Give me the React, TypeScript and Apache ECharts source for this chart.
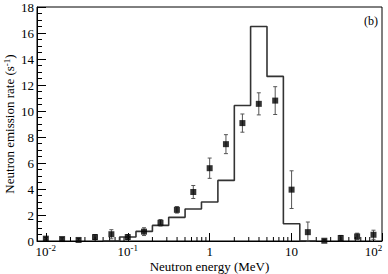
import { useEffect, useRef } from "react";
import * as echarts from "echarts";

// Measured neutron emission rate (points with error bars)
const pointEnergies = [0.01, 0.0158, 0.0251, 0.0398, 0.0631, 0.1, 0.158, 0.251, 0.398, 0.631, 1, 1.58, 2.51, 3.98, 6.31, 10, 15.8, 25.1, 39.8, 63.1, 100];
const pointRates = [0.18, 0.15, 0.08, 0.3, 0.52, 0.3, 0.72, 1.4, 2.4, 3.77, 5.6, 7.45, 9.07, 10.55, 10.8, 3.95, 0.68, 0.02, 0.23, 0.35, 0.48];
const pointErrors = [0.1, 0.1, 0.1, 0.2, 0.35, 0.2, 0.3, 0.25, 0.25, 0.5, 0.78, 0.73, 0.7, 0.85, 1.07, 1.45, 0.78, 0.1, 0.2, 0.25, 0.35];

// Calculated histogram (bin edges and bin values)
const histEdges = [0.0501, 0.0794, 0.126, 0.2, 0.316, 0.501, 0.794, 1.26, 2.0, 3.16, 5.01, 7.94, 12.6, 20.0];
const histRates = [0, 0.31, 0.74, 1.2, 1.82, 2.46, 3.0, 4.66, 10.42, 16.5, 12.66, 1.33, 0];

// Axis ticks
const majorTicks = [0.01, 0.1, 1, 10, 100];
const majorTickLabels = ["{b|10}{s|-2}", "{b|10}{s|-1}", "{b|1}", "{b|10}", "{b|10}{s|2}"];
const minorTicks = [
  0.02, 0.03, 0.04, 0.05, 0.06, 0.07, 0.08, 0.09,
  0.2, 0.3, 0.4, 0.5, 0.6, 0.7, 0.8, 0.9,
  2, 3, 4, 5, 6, 7, 8, 9,
  20, 30, 40, 50, 60, 70, 80, 90,
];

const FONT = "'Liberation Serif', 'Times New Roman', serif";

export default function App() {
  const ref = useRef<HTMLDivElement>(null);
  useEffect(() => {
    if (!ref.current) return;
    const chart = echarts.init(ref.current, null, { renderer: "svg" });
    const histData = histEdges.map((e, i) => [e, i < histRates.length ? histRates[i] : 0]);
    const pointData = pointEnergies.map((e, i) => [e, pointRates[i]]);
    const errData = pointEnergies.map((e, i) => [e, pointRates[i], pointErrors[i]]);
    const barStyle = { stroke: "#555", lineWidth: 1 };
    chart.setOption({
      animation: false,
      textStyle: { fontFamily: FONT },
      grid: {
        left: 37,
        right: 6,
        top: 7,
        bottom: 33,
        outerBoundsMode: "none",
        containLabel: false,
        show: true,
        borderColor: "#000",
        borderWidth: 1,
        backgroundColor: "transparent",
      },
      xAxis: {
        type: "log",
        logBase: 10,
        min: 0.0078,
        max: 127,
        name: "Neutron energy (MeV)",
        nameLocation: "middle",
        nameGap: 19,
        nameMoveOverlap: false,
        nameTextStyle: { fontFamily: FONT, fontSize: 13, color: "#000", lineHeight: 13 },
        axisLine: { lineStyle: { color: "#000", width: 1 } },
        axisTick: { show: true, inside: true, length: 8, lineStyle: { color: "#000" } },
        splitLine: { show: false },
        axisLabel: {
          margin: 4,
          showMinLabel: true,
          showMaxLabel: true,
          fontFamily: FONT,
          lineHeight: 13,
          formatter: (v: number) => {
            for (let i = 0; i < majorTicks.length; i++) {
              if (Math.abs(Math.log10(v) - Math.log10(majorTicks[i])) < 1e-6) return majorTickLabels[i];
            }
            return "";
          },
          rich: {
            b: { fontFamily: FONT, fontSize: 13, color: "#000", lineHeight: 13 },
            s: { fontFamily: FONT, fontSize: 9, color: "#000", verticalAlign: "bottom", lineHeight: 9, padding: [0, 0, 6, 0] },
          },
        },
      },
      yAxis: {
        type: "value",
        min: 0,
        max: 18,
        interval: 2,
        name: "Neutron emission rate (s{s|-1})",
        nameLocation: "middle",
        nameGap: 21,
        nameMoveOverlap: false,
        nameRotate: 90,
        nameTextStyle: {
          fontFamily: FONT,
          fontSize: 13,
          color: "#000",
          rich: { s: { fontFamily: FONT, fontSize: 9, color: "#000", verticalAlign: "bottom", padding: [0, 0, 5, 0] } },
        },
        axisLine: { show: true, lineStyle: { color: "#000", width: 1 } },
        axisTick: { show: true, inside: true, length: 9, lineStyle: { color: "#000" } },
        minorTick: { show: true, splitNumber: 4, length: 5, lineStyle: { color: "#000" } },
        splitLine: { show: false },
        axisLabel: { margin: 3, fontFamily: FONT, fontSize: 13, color: "#000" },
      },
      graphic: [
        {
          type: "text",
          right: 10,
          top: 15,
          style: { text: "(b)", font: `12px ${FONT}`, fill: "#000" },
        },
      ],
      series: [
        {
          type: "custom",
          name: "minorTicks",
          silent: true,
          clip: false,
          data: minorTicks.map((v) => [v, 0]),
          encode: { x: 0, y: 1 },
          renderItem: (_p: any, api: any) => {
            const pt = api.coord([api.value(0), 0]);
            return {
              type: "line",
              shape: { x1: pt[0], y1: pt[1], x2: pt[0], y2: pt[1] - 4 },
              style: { stroke: "#000", lineWidth: 1 },
            };
          },
          z: 1,
        },
        {
          type: "line",
          name: "Calculation",
          step: "end",
          data: histData,
          symbol: "none",
          lineStyle: { color: "#333", width: 1.6 },
          z: 2,
        },
        {
          type: "custom",
          name: "errors",
          data: errData,
          encode: { x: 0, y: 1 },
          renderItem: (_p: any, api: any) => {
            const x = api.value(0);
            const y = api.value(1);
            const e = api.value(2);
            const top = api.coord([x, y + e]);
            const bot = api.coord([x, Math.max(y - e, 0)]);
            const hw = 2;
            return {
              type: "group",
              children: [
                { type: "line", shape: { x1: top[0], y1: top[1], x2: bot[0], y2: bot[1] }, style: barStyle },
                { type: "line", shape: { x1: top[0] - hw, y1: top[1], x2: top[0] + hw, y2: top[1] }, style: barStyle },
                { type: "line", shape: { x1: bot[0] - hw, y1: bot[1], x2: bot[0] + hw, y2: bot[1] }, style: barStyle },
              ],
            };
          },
          z: 3,
        },
        {
          type: "scatter",
          name: "Measurement",
          data: pointData,
          symbol: "rect",
          symbolSize: 6,
          itemStyle: { color: "#000" },
          z: 4,
        },
      ],
    });
    return () => chart.dispose();
  }, []);
  return <div ref={ref} style={{ position: "absolute", left: 0, top: 0, width: 388, height: 274 }} />;
}
